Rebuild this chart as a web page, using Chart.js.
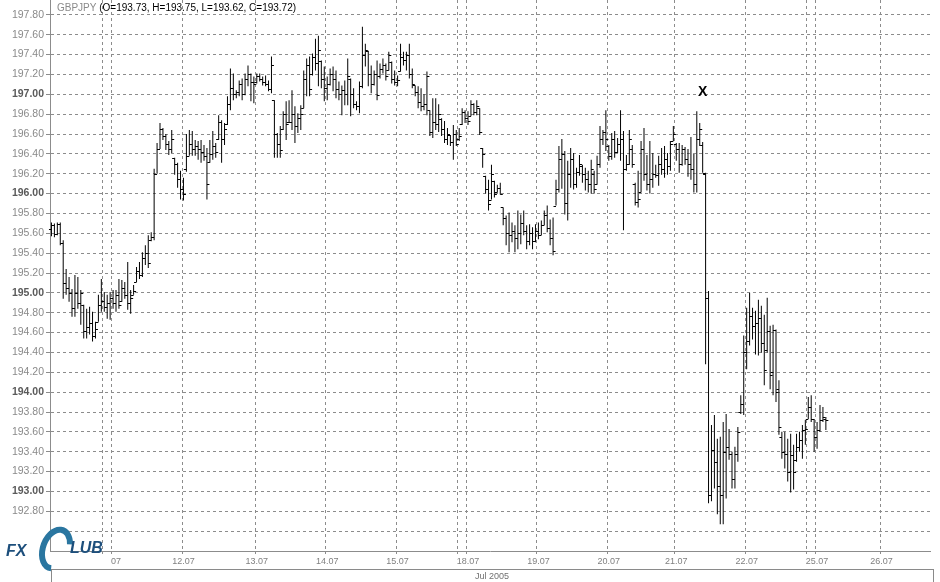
<!DOCTYPE html>
<html>
<head>
<meta charset="utf-8">
<title>GBPJPY</title>
<script src="https://cdn.jsdelivr.net/npm/chart.js@4.4.0/dist/chart.umd.min.js"></script>
<style>
  html, body { margin: 0; padding: 0; background: #fff; }
  #chart { display: block; }
</style>
</head>
<body>
<canvas id="chart" width="940" height="582"></canvas>
<script>
// hourly GBPJPY bars
const opens = [
  195.64,195.68,195.59,195.69,195.50,195.10,195.05,195.00,194.85,195.00,
  194.90,194.88,194.62,194.66,194.70,194.57,194.71,194.88,194.92,194.86,
  194.90,194.95,194.90,194.98,194.92,195.05,194.98,194.90,194.98,195.11,
  195.22,195.18,195.35,195.40,195.53,195.56,196.20,196.45,196.65,196.58,
  196.50,196.45,196.36,196.30,196.15,196.05,196.25,196.38,196.50,196.45,
  196.48,196.45,196.42,196.38,196.32,196.40,196.48,196.55,196.72,196.55,
  196.70,196.90,197.06,197.00,197.02,197.10,197.00,197.15,197.20,197.12,
  197.12,197.18,197.15,197.12,197.10,197.05,196.94,196.60,196.50,196.65,
  196.80,196.72,196.72,196.80,196.68,196.76,196.86,197.15,197.30,197.20,
  197.38,197.32,197.34,197.15,197.06,197.10,197.20,197.15,197.05,197.00,
  197.04,197.00,197.15,197.00,196.90,196.88,197.08,197.40,197.44,197.20,
  197.10,197.20,197.18,197.25,197.30,197.24,197.33,197.15,197.12,197.23,
  197.38,197.35,197.40,197.20,197.09,197.02,196.92,196.88,196.90,196.84,
  196.62,196.72,196.70,196.75,196.65,196.55,196.59,196.52,196.60,196.55,
  196.70,196.82,196.76,196.78,196.90,196.82,196.86,196.46,196.18,196.05,
  195.94,196.13,196.02,196.06,195.86,195.75,195.60,195.58,195.62,195.55,
  195.60,195.70,195.62,195.52,195.60,195.52,195.62,195.58,195.68,195.78,
  195.65,195.55,195.88,196.05,196.35,196.40,195.91,196.20,196.35,196.10,
  196.22,196.28,196.20,196.15,196.10,196.20,196.10,196.30,196.55,196.62,
  196.48,196.38,196.55,196.42,196.50,196.55,196.25,196.30,196.45,196.10,
  195.92,196.02,196.45,196.20,196.10,196.15,196.20,196.19,196.30,196.25,
  196.35,196.28,196.53,196.50,196.45,196.30,196.45,196.35,196.30,196.25,
  196.10,196.55,196.49,196.20,194.95,192.96,193.42,193.30,193.05,192.96,
  193.40,193.45,193.38,193.13,193.38,193.80,193.88,194.40,194.52,194.77,
  194.67,194.70,194.75,194.50,194.42,194.62,194.20,194.63,194.03,193.55,
  193.40,193.38,193.20,193.37,193.32,193.45,193.52,193.62,193.73,193.85,
  193.73,193.55,193.62,193.72,193.73
];
const highs = [
  195.71,195.70,195.71,195.71,195.53,195.24,195.16,195.04,195.18,195.16,
  195.03,194.88,194.84,194.86,194.81,194.71,194.98,195.14,195.01,194.98,
  195.01,195.03,195.03,195.14,195.13,195.11,195.31,195.03,195.08,195.26,
  195.31,195.41,195.48,195.58,195.61,196.25,196.51,196.71,196.66,196.60,
  196.53,196.64,196.36,196.31,196.23,196.16,196.60,196.64,196.63,196.54,
  196.53,196.54,196.49,196.46,196.54,196.63,196.51,196.79,196.74,196.71,
  196.98,197.26,197.21,197.04,197.14,197.16,197.21,197.29,197.21,197.18,
  197.21,197.21,197.18,197.19,197.14,197.38,196.94,196.61,196.68,196.83,
  196.93,196.94,197.04,196.88,196.81,196.89,197.24,197.36,197.38,197.41,
  197.56,197.59,197.34,197.28,197.18,197.26,197.28,197.24,197.13,197.09,
  197.14,197.36,197.16,197.06,196.93,197.13,197.68,197.51,197.44,197.29,
  197.24,197.34,197.31,197.36,197.31,197.43,197.33,197.24,197.19,197.51,
  197.43,197.43,197.51,197.26,197.09,197.08,197.06,197.00,197.23,196.84,
  196.96,196.96,196.90,196.76,196.73,196.66,196.59,196.69,196.64,196.66,
  196.86,196.84,196.83,196.94,196.91,196.94,196.86,196.46,196.18,196.14,
  196.29,196.13,196.09,196.11,195.86,195.78,195.81,195.71,195.68,195.83,
  195.79,195.83,195.68,195.69,195.66,195.69,195.71,195.73,195.83,195.88,
  195.74,195.76,196.14,196.48,196.55,196.43,196.33,196.46,196.41,196.26,
  196.39,196.29,196.26,196.23,196.34,196.23,196.38,196.68,196.64,196.84,
  196.49,196.61,196.63,196.56,196.84,196.63,196.39,196.64,196.49,196.11,
  196.23,196.53,196.66,196.39,196.53,196.41,196.29,196.38,196.46,196.48,
  196.41,196.53,196.68,196.51,196.51,196.49,196.47,196.45,196.57,196.40,
  196.83,196.71,196.52,196.21,195.02,193.67,193.77,193.53,193.55,193.70,
  193.78,193.63,193.40,193.45,193.65,193.97,194.57,194.85,195.00,194.85,
  194.82,194.93,194.87,194.78,194.95,194.67,194.68,194.63,194.12,193.60,
  193.60,193.53,193.58,193.47,193.58,193.60,193.67,193.72,193.95,193.97,
  193.73,193.70,193.87,193.85,193.75
];
const lows = [
  195.57,195.56,195.58,195.48,194.94,194.98,194.91,194.76,194.76,194.84,
  194.68,194.54,194.54,194.58,194.51,194.54,194.71,194.81,194.81,194.74,
  194.73,194.84,194.81,194.84,194.91,194.94,194.83,194.79,194.98,195.11,
  195.14,195.16,195.28,195.25,195.52,195.53,196.20,196.45,196.54,196.44,
  196.39,196.41,196.19,196.06,195.94,195.93,196.22,196.38,196.38,196.38,
  196.34,196.31,196.33,195.94,196.31,196.34,196.36,196.54,196.31,196.49,
  196.69,196.84,196.94,196.96,196.98,196.94,196.99,197.08,196.93,196.91,
  197.11,197.13,197.09,197.08,197.03,197.01,196.36,196.36,196.36,196.64,
  196.54,196.71,196.64,196.51,196.61,196.64,196.86,196.98,196.98,197.19,
  197.24,197.08,197.06,196.93,196.94,197.09,197.03,196.96,196.94,196.79,
  196.89,196.89,196.78,196.86,196.84,196.81,197.06,197.28,197.08,197.01,
  197.09,196.94,197.16,197.21,197.14,197.24,197.11,197.09,197.08,197.23,
  197.29,197.24,197.16,197.06,196.98,196.86,196.83,196.84,196.79,196.58,
  196.56,196.64,196.62,196.58,196.51,196.49,196.48,196.34,196.48,196.53,
  196.69,196.71,196.69,196.78,196.79,196.79,196.59,196.26,196.00,195.83,
  195.94,195.96,196.01,195.99,195.68,195.48,195.41,195.51,195.41,195.44,
  195.49,195.58,195.44,195.48,195.44,195.51,195.54,195.58,195.68,195.61,
  195.48,195.38,195.88,196.01,196.05,195.79,195.73,196.06,196.04,196.06,
  196.18,196.11,196.03,196.01,196.00,196.00,196.09,196.26,196.49,196.43,
  196.33,196.34,196.36,196.41,196.33,195.63,196.23,196.29,196.26,195.88,
  195.86,196.01,196.13,196.03,196.00,196.06,196.16,196.08,196.19,196.16,
  196.19,196.23,196.53,196.33,196.21,196.28,196.29,196.17,196.14,196.01,
  196.01,196.48,196.21,194.28,192.88,192.90,193.03,192.77,192.67,192.67,
  192.93,193.32,193.03,193.03,193.30,193.78,193.77,194.23,194.47,194.53,
  194.38,194.37,194.40,194.07,194.40,194.03,193.97,193.90,193.57,193.33,
  193.23,193.10,192.99,193.02,193.30,193.40,193.33,193.47,193.73,193.70,
  193.40,193.43,193.60,193.70,193.62
];
const closes = [
  195.68,195.59,195.69,195.50,195.10,195.05,195.00,194.85,195.00,194.90,
  195.00,194.62,194.66,194.70,194.57,194.64,194.88,194.92,194.86,194.90,
  194.95,194.90,194.98,194.88,195.05,194.98,194.90,194.95,195.02,195.22,
  195.18,195.35,195.40,195.30,195.56,196.20,196.45,196.65,196.58,196.50,
  196.45,196.55,196.30,196.15,196.05,196.00,196.38,196.50,196.45,196.48,
  196.45,196.42,196.38,196.10,196.40,196.48,196.42,196.72,196.55,196.65,
  196.90,197.06,197.00,197.02,197.10,197.00,197.15,197.20,197.12,197.10,
  197.18,197.15,197.12,197.10,197.05,197.30,196.60,196.50,196.44,196.80,
  196.70,196.72,196.80,196.68,196.76,196.80,197.15,197.30,197.05,197.38,
  197.32,197.45,197.15,197.06,197.10,197.20,197.15,197.05,197.00,197.04,
  197.00,197.18,197.00,196.90,196.88,197.08,197.40,197.45,197.20,197.10,
  197.20,196.99,197.25,197.30,197.18,197.40,197.15,197.12,197.14,197.38,
  197.35,197.40,197.20,197.10,197.02,196.92,196.88,196.90,197.18,196.62,
  196.72,196.70,196.80,196.65,196.55,196.60,196.52,196.60,196.50,196.58,
  196.82,196.76,196.73,196.90,196.82,196.88,196.62,196.40,196.05,195.90,
  196.20,196.00,196.06,196.00,195.75,195.60,195.58,195.62,195.55,195.60,
  195.70,195.62,195.52,195.60,195.52,195.62,195.58,195.68,195.78,195.65,
  195.55,195.42,196.05,196.35,196.40,195.91,196.20,196.35,196.10,196.22,
  196.30,196.20,196.15,196.10,196.25,196.05,196.30,196.55,196.62,196.55,
  196.38,196.55,196.42,196.50,196.55,196.25,196.30,196.55,196.30,195.92,
  195.95,196.45,196.20,196.10,196.15,196.20,196.19,196.30,196.25,196.35,
  196.28,196.50,196.60,196.45,196.30,196.45,196.35,196.30,196.25,196.10,
  196.55,196.65,196.21,194.95,192.96,193.42,193.30,193.05,192.96,193.40,
  193.45,193.38,193.13,193.38,193.60,193.88,194.40,194.52,194.77,194.67,
  194.70,194.75,194.50,194.22,194.62,194.17,194.63,194.00,193.65,193.40,
  193.38,193.20,193.37,193.20,193.45,193.52,193.62,193.63,193.85,193.73,
  193.55,193.62,193.72,193.75,193.72
];

// x axis: hourly slots, day separators and their labels
const slotCount = 300;
const dayLines = [18, 21, 45, 70, 94, 118, 139, 142, 166, 190, 213, 237, 258, 261, 283];
const dayLabelSlots = [22, 45, 70, 94, 118, 142, 166, 190, 213, 237, 261, 283];
const dayLabels = ['07', '12.07', '13.07', '14.07', '15.07', '18.07', '19.07', '20.07', '21.07', '22.07', '25.07', '26.07'];
const priceTicks = [192.6, 192.8, 193.0, 193.2, 193.4, 193.6, 193.8, 194.0, 194.2, 194.4, 194.6, 194.8,
  195.0, 195.2, 195.4, 195.6, 195.8, 196.0, 196.2, 196.4, 196.6, 196.8, 197.0, 197.2, 197.4, 197.6, 197.8];
const markerSlot = 222;
const markerPrice = 197.02;

const FONT = '"Liberation Sans", Arial, sans-serif';
const isWhole = v => Math.abs(v - Math.round(v)) < 1e-6;
const tickIsWhole = ctx => !!(ctx && ctx.tick && isWhole(ctx.tick.value));

// open / close ticks on each bar
const ohlcTicks = {
  id: 'ohlcTicks',
  afterDatasetsDraw(chart) {
    const meta = chart.getDatasetMeta(0);
    const y = chart.scales.y;
    const ctx = chart.ctx;
    ctx.save();
    ctx.strokeStyle = '#000';
    ctx.lineWidth = 1;
    ctx.beginPath();
    meta.data.forEach((bar, i) => {
      const yo = Math.round(y.getPixelForValue(opens[i])) + 0.5;
      const yc = Math.round(y.getPixelForValue(closes[i])) + 0.5;
      ctx.moveTo(bar.x - 2.5, yo);
      ctx.lineTo(bar.x, yo);
      ctx.moveTo(bar.x, yc);
      ctx.lineTo(bar.x + 2.5, yc);
    });
    ctx.stroke();
    ctx.restore();
  }
};

// header, X marker, month box and logo
const decorations = {
  id: 'decorations',
  afterDraw(chart) {
    const ctx = chart.ctx;
    const x = chart.scales.x, y = chart.scales.y;
    ctx.save();

    ctx.font = '10px ' + FONT;
    ctx.textBaseline = 'alphabetic';
    ctx.fillStyle = '#8a8a8a';
    ctx.fillText('GBPJPY', 57, 11);
    const w = ctx.measureText('GBPJPY ').width;
    ctx.fillStyle = '#000';
    ctx.fillText('(O=193.73, H=193.75, L=193.62, C=193.72)', 57 + w, 11);

    ctx.font = 'bold 14px ' + FONT;
    ctx.textAlign = 'center';
    ctx.textBaseline = 'middle';
    ctx.fillText('X', x.getPixelForValue(markerSlot), y.getPixelForValue(markerPrice));

    ctx.strokeStyle = '#8a8a8a';
    ctx.lineWidth = 1;
    ctx.strokeRect(51.5, 569.5, 882, 16);
    ctx.font = '9px ' + FONT;
    ctx.fillStyle = '#707070';
    ctx.fillText('Jul 2005', 492, 577);

    // FX Club logo
    ctx.fillStyle = '#fff';
    ctx.fillRect(0, 518, 49, 64);
    ctx.textAlign = 'left';
    ctx.textBaseline = 'alphabetic';
    ctx.font = 'italic bold 16px ' + FONT;
    ctx.fillStyle = '#1d4f7c';
    ctx.fillText('FX', 6, 556);
    ctx.strokeStyle = '#2a76a0';
    ctx.lineWidth = 6;
    ctx.beginPath();
    ctx.ellipse(56, 549, 13, 20, 0.35, 0.45 * Math.PI, 1.85 * Math.PI);
    ctx.stroke();
    ctx.fillStyle = '#1d4f7c';
    ctx.fillText('LUB', 70, 553);
    ctx.restore();
  }
};

new Chart(document.getElementById('chart'), {
  type: 'bar',
  data: {
    labels: Array.from({ length: slotCount }, (_, i) => i),
    datasets: [{
      data: lows.map((lo, i) => [lo, highs[i]]),
      backgroundColor: '#000',
      borderWidth: 0,
      barThickness: 1,
      inflateAmount: 0
    }]
  },
  options: {
    responsive: false,
    animation: false,
    devicePixelRatio: 1,
    layout: { padding: { left: 0, right: 10, top: 0, bottom: 0 } },
    plugins: { legend: { display: false }, tooltip: { enabled: false } },
    scales: {
      x: {
        afterFit(scale) {
          scale.height = 31;
          scale.paddingLeft = 0;
          scale.paddingRight = 0;
        },
        grid: {
          offset: true,
          tickLength: 3,
          color: ctx => dayLines.includes(ctx.index) ? '#8c8c8c' : 'rgba(0,0,0,0)'
        },
        border: { color: '#8c8c8c', dash: [3, 3] },
        ticks: {
          autoSkip: false,
          maxRotation: 0,
          minRotation: 0,
          padding: 2,
          color: '#808080',
          font: { family: FONT, size: 9 },
          callback: (val, idx) => {
            const k = dayLabelSlots.indexOf(idx);
            return k >= 0 ? dayLabels[k] : '';
          }
        }
      },
      y: {
        min: 192.40,
        max: 197.95,
        afterFit(scale) {
          scale.width = 50;
          scale.paddingTop = 0;
          scale.paddingBottom = 0;
        },
        afterBuildTicks(scale) { scale.ticks = priceTicks.map(v => ({ value: v })); },
        grid: { color: '#8c8c8c', tickLength: 4 },
        border: { color: '#8c8c8c', dash: [3, 3] },
        ticks: {
          padding: 2,
          color: ctx => tickIsWhole(ctx) ? '#5a5a5a' : '#8a8a8a',
          font: ctx => ({ family: FONT, size: 10.5, weight: tickIsWhole(ctx) ? 'bold' : 'normal' }),
          callback: v => v < 192.7 ? '' : Number(v).toFixed(2)
        }
      }
    }
  },
  plugins: [ohlcTicks, decorations]
});
</script>
</body>
</html>
